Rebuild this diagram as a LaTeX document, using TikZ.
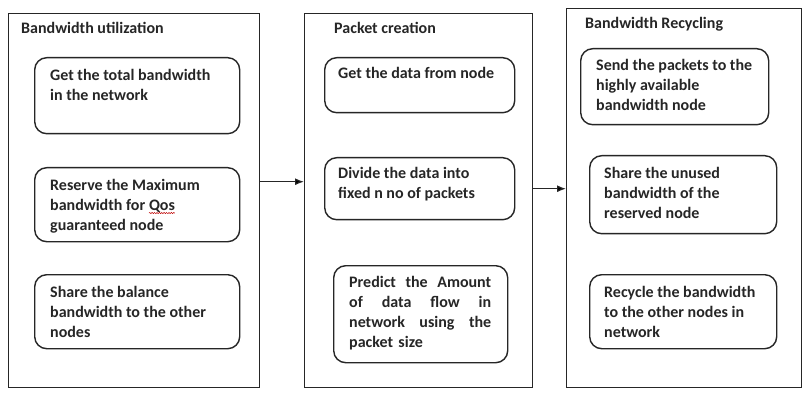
\documentclass[tikz,border=0pt]{standalone}
\usepackage{fontspec}
\setmainfont{Carlito}
\usetikzlibrary{arrows.meta,decorations.pathmorphing}
\newcommand{\squig}[1]{\tikz[baseline=(sq.base)]{\node[inner sep=0pt,outer sep=0pt] (sq) {#1};\draw[red!75!black,line width=0.5pt,decorate,decoration={snake,amplitude=0.6pt,segment length=2.4pt}] ([yshift=-2.6pt]sq.base west) -- ([yshift=-2.6pt]sq.base east);}}
\tikzset{
  panel/.style={draw=black!85,line width=1.4pt,minimum width=#1,anchor=north west,inner sep=0pt},
  stepbox/.style={draw=black!85,line width=1.4pt,rounded corners=12pt,anchor=north west,inner sep=0pt},
  lbl/.style={anchor=north west,inner sep=0pt,align=left,text=black!85,font=\fontsize{16}{20}\selectfont\bfseries},
  flow/.style={draw=black!85,line width=1.2pt,-{Latex[length=9pt,width=7pt]}}
}
\begin{document}
\begin{tikzpicture}[x=1pt,y=-1pt]
\fill[white] (0,0) rectangle (803,406);
\useasboundingbox (0,0) rectangle (803,406);
% panels
\node[panel=251pt,minimum height=374pt] (P1) at (8,13) {};
\node[panel=228pt,minimum height=374pt] (P2) at (304,13) {};
\node[panel=235pt,minimum height=379pt] (P3) at (566,8) {};
% titles
\node[lbl] (T1) at (21,22) {Bandwidth utilization};
\node[lbl] (T2) at (334,22) {Packet creation};
\node[lbl] (T3) at (585,17) {Bandwidth Recycling};
% left boxes
\node[stepbox,minimum width=205pt,minimum height=76pt] (A1) at (34,57) {};
\node[stepbox,minimum width=205pt,minimum height=74pt] (A2) at (34,167) {};
\node[stepbox,minimum width=205pt,minimum height=74pt] (A3) at (34,274) {};
\node[lbl] (a1) at (50,69) {Get the total bandwidth\\in the network};
\node[lbl] (a2) at (50,179) {Reserve the Maximum\\bandwidth for \squig{Qos}\\guaranteed node};
\node[lbl] (a3) at (50,286) {Share the balance\\bandwidth to the other\\nodes};
% middle boxes
\node[stepbox,minimum width=190pt,minimum height=55pt] (B1) at (324,57) {};
\node[stepbox,minimum width=190pt,minimum height=62pt] (B2) at (324,157) {};
\node[stepbox,minimum width=174pt,minimum height=97pt] (B3) at (333,265) {};
\node[lbl] (b1) at (338,67) {Get the data from node};
\node[lbl] (b2) at (338,167) {Divide the data into\\fixed n no of packets};
\node[lbl,text width=142pt] (b3) at (349,276) {Predict\hfill the\hfill Amount\\of\hfill data\hfill flow\hfill in\\network\hfill using\hfill the\\packet size};
% right boxes
\node[stepbox,minimum width=188pt,minimum height=76pt] (C1) at (580,48) {};
\node[stepbox,minimum width=187pt,minimum height=78pt] (C2) at (589,155) {};
\node[stepbox,minimum width=187pt,minimum height=74pt] (C3) at (589,274) {};
\node[lbl] (c1) at (596,59) {Send the packets to the\\highly available\\bandwidth node};
\node[lbl] (c2) at (604,167) {Share the unused\\bandwidth of the\\reserved node};
\node[lbl] (c3) at (604,286) {Recycle the bandwidth\\to the other nodes in\\network};
% connectors
\draw[flow] ([yshift=19pt]P1.east) -- ([yshift=19pt]P2.west);
\draw[flow] ([yshift=12pt]P2.east) -- ([yshift=9.5pt]P3.west);
\end{tikzpicture}
\end{document}
